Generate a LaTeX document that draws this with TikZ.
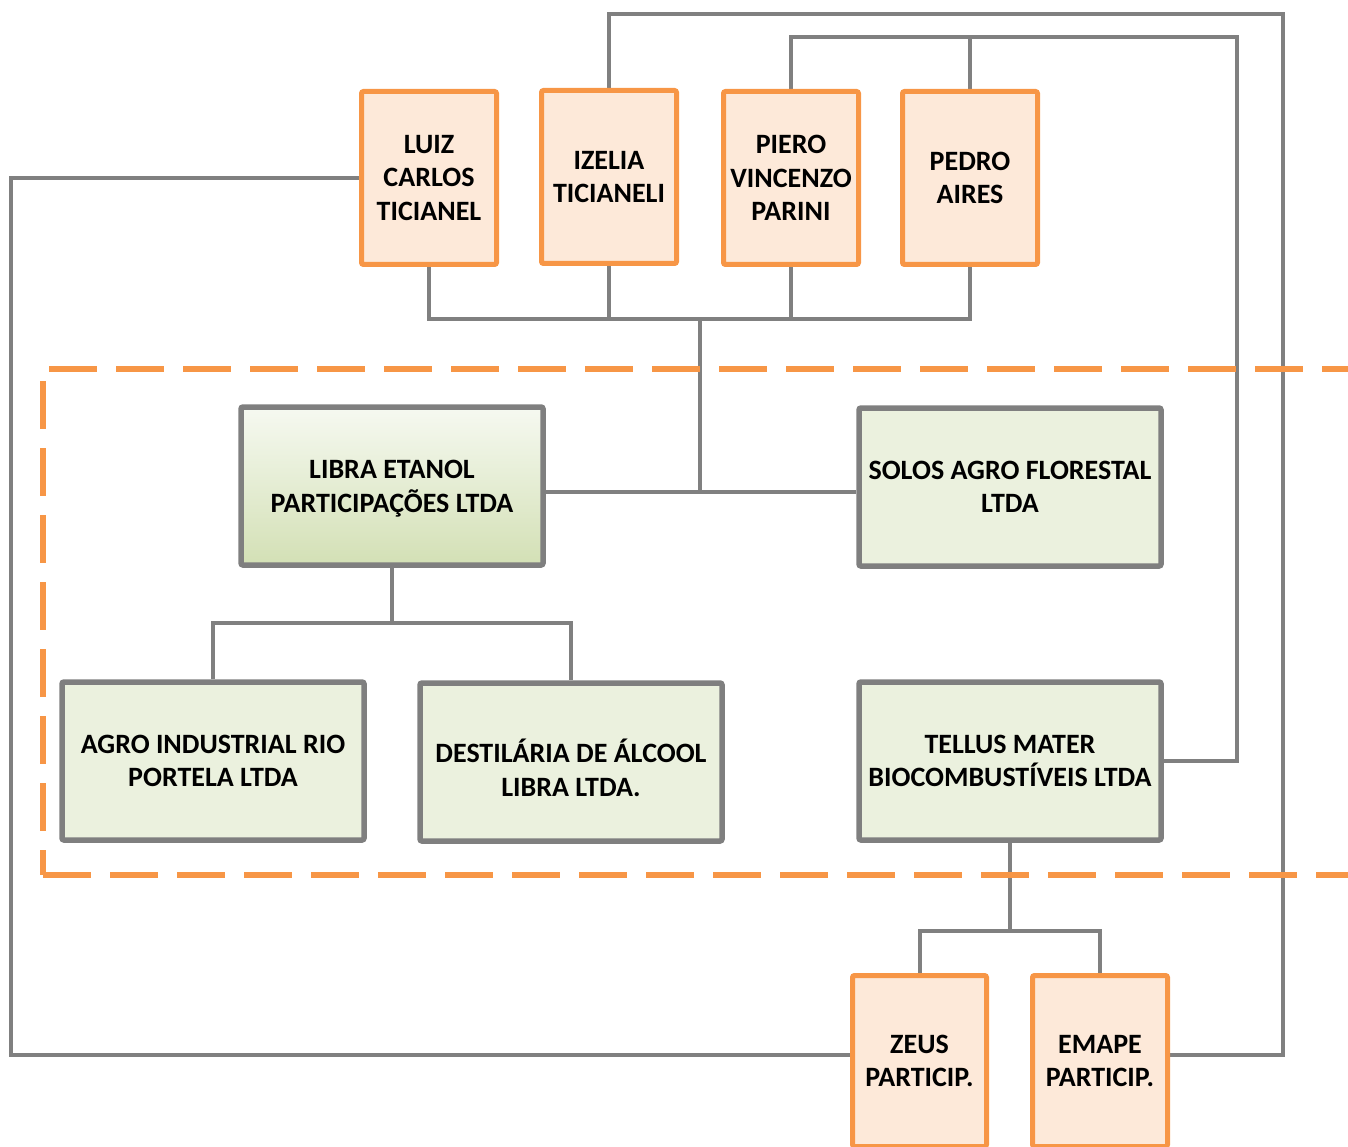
\documentclass[tikz,border=0pt]{standalone}
\usepackage{fontspec}
\setmainfont{Carlito}
\usetikzlibrary{backgrounds}
\definecolor{boxorange}{HTML}{F79646}
\definecolor{boxpeach}{HTML}{FDE9D9}
\definecolor{boxgreen}{HTML}{EBF1DE}
\definecolor{boxgray}{HTML}{7F7F7F}
\definecolor{linegray}{HTML}{808080}
\definecolor{libratop}{HTML}{F6F9F1}
\definecolor{librabottom}{HTML}{D3E0B5}
\tikzset{
  label font/.style={font=\fontsize{28}{33.5}\selectfont\bfseries},
  owner/.style={draw=boxorange, fill=boxpeach, line width=5pt, rounded corners=2pt,
    minimum width=135pt, minimum height=173pt, align=center, label font},
  firm/.style={draw=boxgray, fill=boxgreen, line width=5.5pt, rounded corners=2pt,
    minimum width=302pt, minimum height=158pt, align=center, label font},
  link/.style={draw=linegray, line width=4pt},
  frame/.style={draw=boxorange, line width=5.5pt, dash pattern=on 48pt off 19pt}
}
\begin{document}
\begin{tikzpicture}[x=1pt,y=-1pt]
\useasboundingbox (0,0) rectangle (1348,1147);
\node[owner] (luiz) at (429,178) {LUIZ\\CARLOS\\TICIANEL};
\node[owner] (izelia) at (609,177) {IZELIA\\TICIANELI};
\node[owner] (piero) at (791,178) {PIERO\\VINCENZO\\PARINI};
\node[owner] (pedro) at (970,178) {PEDRO\\AIRES};
\node[firm, top color=libratop, bottom color=librabottom] (libra) at (392,486) {\rule{0pt}{24pt}LIBRA ETANOL\\PARTICIPAÇÕES LTDA};
\node[firm] (solos) at (1010,487) {SOLOS AGRO FLORESTAL\\LTDA};
\node[firm] (agro) at (213,761) {AGRO INDUSTRIAL RIO\\PORTELA LTDA};
\node[firm] (dest) at (571,762) {\rule{0pt}{35pt}DESTILÁRIA DE ÁLCOOL\\LIBRA LTDA.};
\node[firm] (tellus) at (1010,761) {TELLUS MATER\\BIOCOMBUSTÍVEIS LTDA};
\node[owner, minimum width=134pt, minimum height=171pt] (zeus) at (919.5,1061) {ZEUS\\PARTICIP.};
\node[owner, minimum height=171pt] (emape) at (1100,1061) {EMAPE\\PARTICIP.};
\coordinate (topbus) at (700,319);
\coordinate (midbus) at (700,492);
\coordinate (libbus) at (392,623);
\coordinate (telbus) at (1010,931);
\coordinate (lowleft) at (11,1055);
\coordinate (outerne) at (1283,14);
\coordinate (innerne) at (1237,37);
\begin{scope}[on background layer]
\draw[link] (luiz.south) |- (topbus) -| (pedro.south);
\draw[link] (izelia.south) -- (izelia.south |- topbus);
\draw[link] (piero.south) -- (piero.south |- topbus);
\draw[link] (topbus) -- (midbus);
\draw[link] (libra.east |- midbus) -- (solos.west |- midbus);
\draw[link] (libra.south) -- (libbus);
\draw[link] (agro.north) |- (libbus) -| (dest.north);
\draw[link] (tellus.south) -- (telbus);
\draw[link] (zeus.north) |- (telbus) -| (emape.north);
\draw[link] (luiz.west) -| (lowleft) -- (zeus.west |- lowleft);
\draw[link] (izelia.north) |- (outerne) |- (emape.east |- lowleft);
\draw[link] (piero.north) |- (innerne) |- (tellus.east);
\draw[link] (pedro.north) -- (pedro.north |- innerne);
\draw[frame, dash phase=61pt] (43,369) -- (1350,369);
\draw[frame, dash phase=55pt] (43,369) -- (43,875);
\draw[frame] (43,875) -- (1350,875);
\end{scope}
\end{tikzpicture}
\end{document}
